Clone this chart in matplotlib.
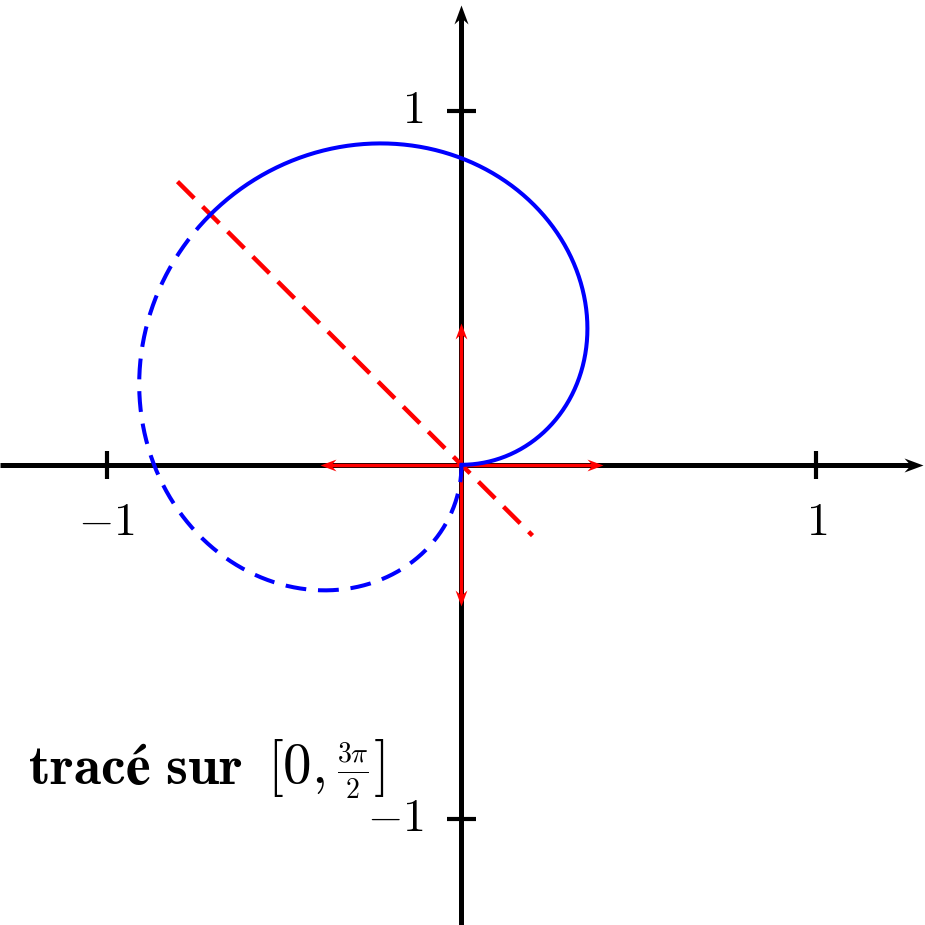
import numpy as np
import matplotlib
matplotlib.use("Agg")
import matplotlib.pyplot as plt
from matplotlib.path import Path
from matplotlib.markers import MarkerStyle

plt.rcParams['mathtext.fontset'] = 'cm'
plt.rcParams['lines.scale_dashes'] = False

# ---- data ----
theta_start = 0.0
theta_mid = 3 * np.pi / 4      # symmetry axis: solid before, dashed after
theta_end = 3 * np.pi / 2
freq = 2.0 / 3.0               # r(theta) = sin(2 theta / 3)
axis_min, axis_max = -1.3, 1.3
x_ticks = [-1, 1]
x_tick_labels = [r'$-1$', r'$1$']
y_ticks = [1, -1]
y_tick_labels = [r'$1$', r'$-1$']
vec_x = [0.4, -0.4, 0.0, 0.0]
vec_y = [0.0, 0.0, 0.4, -0.4]
sym_line_x = [-0.8, 0.2]
sym_line_y = [0.8, -0.2]
title_words = r'$\mathbf{tracé\ sur}$'
title_interval = r'$[0,\genfrac{}{}{1.6}{2}{3\pi}{2}]$'

W, H = 925, 925
ppu_x, ppu_y = 355.0, 354.0          # pixels per data unit
fig = plt.figure(figsize=(W / 100, H / 100), dpi=100)
ax = fig.add_axes([0, 0, 1, 1])
ax.set_xlim(-1.3, -1.3 + W / ppu_x)
ax.set_ylim(-1.3, -1.3 + H / ppu_y)
ax.axis('off')

# stealth arrow head marker (tip at origin, pointing +x)
stealth = Path([(0, 0), (-1, 0.37), (-0.67, 0), (-1, -0.37), (0, 0)],
               [Path.MOVETO, Path.LINETO, Path.LINETO, Path.LINETO, Path.CLOSEPOLY])


def arrow(x0, y0, x1, y1, color, lw, head_px, z):
    ang = np.degrees(np.arctan2((y1 - y0) * ppu_y, (x1 - x0) * ppu_x))
    d = np.hypot((x1 - x0) * ppu_x, (y1 - y0) * ppu_y)
    f = (d - 0.6 * head_px) / d
    ax.plot([x0, x0 + f * (x1 - x0)], [y0, y0 + f * (y1 - y0)], color=color,
            lw=lw, solid_capstyle='butt', zorder=z)
    m = MarkerStyle(stealth).rotated(deg=ang)
    ax.plot([x1], [y1], marker=m, markersize=2 * head_px * 0.72,
            color=color, markeredgewidth=0, zorder=z)


# axes with arrows
arrow(axis_min, 0, axis_max, 0, 'black', 3.6, 19, 1)
arrow(0, axis_min, 0, axis_max, 'black', 3.6, 19, 1)

tick_len = 0.04
for xt, lab in zip(x_ticks, x_tick_labels):
    ax.plot([xt, xt], [-tick_len, tick_len], color='black', lw=3.0, zorder=1,
            solid_capstyle='butt')
    ax.text(xt, -0.1, lab, ha='center', va='top', fontsize=33)
for yt, lab in zip(y_ticks, y_tick_labels):
    ax.plot([-tick_len, tick_len], [yt, yt], color='black', lw=3.0, zorder=1,
            solid_capstyle='butt')
    ax.text(-0.107, yt, lab, ha='right', va='center', fontsize=33)

# red vectors
for vx, vy in zip(vec_x, vec_y):
    arrow(0, 0, vx, vy, 'red', 2.5, 16, 2)

# symmetry line
ax.plot(sym_line_x, sym_line_y, color='red', lw=3.2,
        linestyle=(0, (17, 8.5)), dash_capstyle='butt', zorder=3)

# polar curve
t1 = np.linspace(theta_start, theta_mid, 400)
t2 = np.linspace(theta_mid, theta_end, 400)
for t, ls in [(t1, '-'), (t2, (0, (15, 8.5)))]:
    r = np.sin(freq * t)
    ax.plot(r * np.cos(t), r * np.sin(t), color='blue', lw=2.9,
            linestyle=ls, dash_capstyle='butt', zorder=4)

base_y = -0.902
ax.text(-1.221, base_y, title_words, ha='left', va='baseline', fontsize=40)
ax.text(-0.549, base_y, title_interval, ha='left', va='baseline', fontsize=41)

fig.savefig('out.png', dpi=100)
